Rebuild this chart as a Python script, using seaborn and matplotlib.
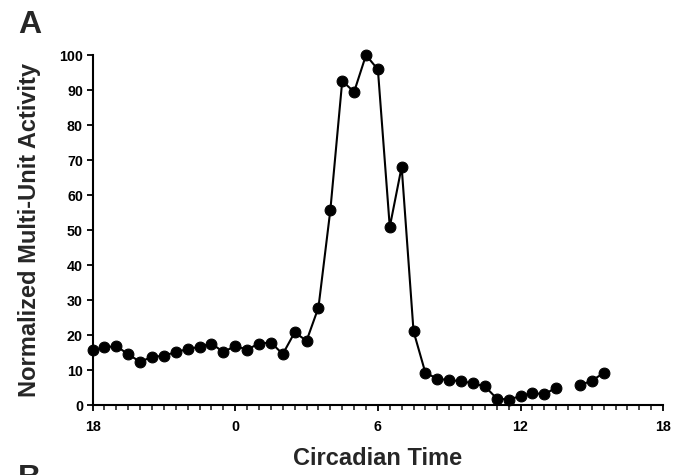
import numpy as np
import pandas as pd
import matplotlib
matplotlib.use("Agg")
import matplotlib.pyplot as plt
from matplotlib.ticker import MultipleLocator
import seaborn as sns

# Circadian time (hours, CT18 of previous cycle shown as -6)
ct_hours = [-6, -5.5, -5, -4.5, -4, -3.5, -3, -2.5, -2, -1.5, -1, -0.5,
            0, 0.5, 1, 1.5, 2, 2.5, 3, 3.5, 4, 4.5, 5, 5.5, 6, 6.5, 7, 7.5,
            8, 8.5, 9, 9.5, 10, 10.5, 11, 11.5, 12, 12.5, 13, 13.5,
            14.5, 15, 15.5]
activity = [15.7, 16.5, 16.9, 14.5, 12.4, 13.8, 14.1, 15.2, 16.0, 16.7, 17.6, 15.2,
            16.9, 15.9, 17.6, 17.9, 14.6, 20.8, 18.4, 27.9, 55.7, 92.6, 89.5, 100.0,
            95.9, 50.9, 68.1, 21.1, 9.2, 7.6, 7.1, 6.9, 6.2, 5.4, 1.9, 1.6, 2.6,
            3.5, 3.1, 5.0, 5.7, 7.0, 9.2]
segment = [0] * 40 + [1] * 3

tick_pos = [-6, 0, 6, 12, 18]
tick_labels = ["18", "0", "6", "12", "18"]

df = pd.DataFrame({"ct": ct_hours, "act": activity, "seg": segment})

sns.set_style("ticks")
plt.rcParams["font.family"] = ["Liberation Sans", "DejaVu Sans"]
plt.rcParams["font.weight"] = "bold"

fig = plt.figure(figsize=(6.76, 4.75), dpi=100)
ax = fig.add_axes([0.137, 0.147, 0.844, 0.737])

sns.lineplot(data=df, x="ct", y="act", units="seg", estimator=None,
             marker="o", markersize=7.8, color="black", linewidth=1.5,
             markeredgecolor="black", ax=ax)
for ln in ax.lines:
    ln.set_clip_on(False)

ax.set_xlim(-6, 18)
ax.set_ylim(0, 100)
ax.set_xticks(tick_pos)
ax.set_xticklabels(tick_labels)
ax.xaxis.set_minor_locator(MultipleLocator(0.5))
ax.set_yticks(range(0, 101, 10))

for s in ["top", "right"]:
    ax.spines[s].set_visible(False)
for s in ["left", "bottom"]:
    ax.spines[s].set_linewidth(1.5)
    ax.spines[s].set_color("black")

ax.tick_params(axis="both", which="major", direction="out", length=4, width=1.3,
               labelsize=10.3, colors="black", pad=3)
ax.tick_params(axis="x", which="minor", direction="out", length=3.5, width=1.2)
ax.tick_params(axis="x", which="major", pad=7)
for lab in ax.get_xticklabels() + ax.get_yticklabels():
    lab.set_fontweight("bold")

ax.set_xlabel("Circadian Time", fontsize=17, fontweight="bold", labelpad=9)
ax.set_ylabel("Normalized Multi-Unit Activity", fontsize=17, fontweight="bold",
              labelpad=13)

fig.text(0.027, 0.915, "A", fontsize=23, fontweight="bold", ha="left", va="bottom")
fig.text(0.027, -0.04, "B", fontsize=23, fontweight="bold", ha="left", va="bottom")

fig.savefig("out.png", dpi=100)
